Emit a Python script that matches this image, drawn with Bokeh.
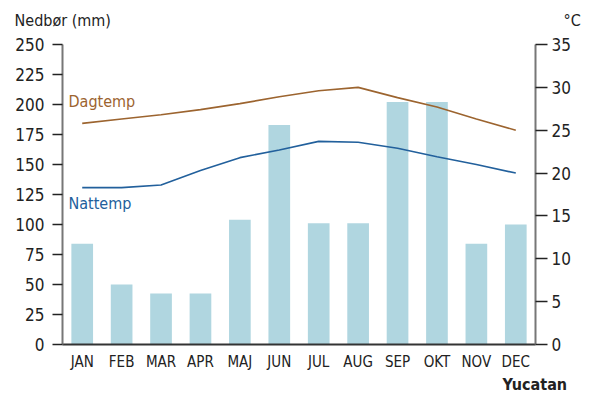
from bokeh.plotting import figure
from bokeh.models import (Range1d, FactorRange, LinearAxis, FixedTicker, Label, ColumnDataSource)
from bokeh.embed import file_html
from bokeh.resources import INLINE

months = ["JAN", "FEB", "MAR", "APR", "MAJ", "JUN", "JUL", "AUG", "SEP", "OKT", "NOV", "DEC"]
precip = [84, 50, 42.5, 42.5, 104, 183, 101, 101, 202, 202, 84, 100]
day_temp = [25.8, 26.3, 26.8, 27.4, 28.1, 28.9, 29.6, 30.0, 28.8, 27.7, 26.3, 25.0]
night_temp = [18.3, 18.3, 18.6, 20.3, 21.8, 22.7, 23.7, 23.6, 22.9, 21.9, 21.0, 20.0]
left_ticks = [0, 25, 50, 75, 100, 125, 150, 175, 200, 225, 250]
right_ticks = [0, 5, 10, 15, 20, 25, 30, 35]

FONT = "'DejaVu Sans Condensed', Roboto, sans-serif"

p = figure(width=590, height=395, x_range=FactorRange(factors=months, range_padding=0.0),
           y_range=Range1d(0, 250), output_backend="svg", toolbar_location=None,
           min_border_left=62, min_border_right=45, min_border_top=44, min_border_bottom=51)
p.extra_y_ranges = {"temp": Range1d(0, 35)}
p.outline_line_color = None
p.xgrid.visible = False
p.ygrid.visible = False

src = ColumnDataSource(dict(m=months, v=precip, d=day_temp, n=night_temp))
p.vbar(x="m", top="v", width=0.55, source=src, fill_color="#b0d6e0", line_color=None)
p.line(x="m", y="d", source=src, y_range_name="temp", line_color="#9c642f", line_width=1.6)
p.line(x="m", y="n", source=src, y_range_name="temp", line_color="#22609c", line_width=1.6)

ya = p.yaxis[0]
ya.ticker = FixedTicker(ticks=left_ticks)
ya.axis_line_color = "#777777"
ya.axis_line_width = 2
ya.major_tick_line_color = "#222222"
ya.major_tick_line_width = 1.5
ya.major_tick_out = 10
ya.major_tick_in = 0
ya.minor_tick_line_color = None
ya.major_label_text_font = FONT
ya.major_label_text_font_size = "17px"
ya.major_label_text_color = "#222222"
ya.major_label_standoff = 8

ra = LinearAxis(y_range_name="temp", ticker=FixedTicker(ticks=right_ticks))
ra.axis_line_color = "#777777"
ra.axis_line_width = 2
ra.major_tick_line_color = "#222222"
ra.major_tick_line_width = 1.5
ra.major_tick_out = 12
ra.major_tick_in = 0
ra.minor_tick_line_color = None
ra.major_label_text_font = FONT
ra.major_label_text_font_size = "17px"
ra.major_label_text_color = "#222222"
ra.major_label_standoff = 4
p.add_layout(ra, "right")

xa = p.xaxis[0]
xa.axis_line_color = "#333333"
xa.axis_line_width = 2
xa.major_tick_line_color = None
xa.minor_tick_line_color = None
xa.major_label_text_font = FONT
xa.major_label_text_font_size = "15px"
xa.major_label_text_color = "#222222"
xa.major_label_standoff = 2

def make_label(x, y, text, color="#222222", style="normal"):
    return Label(x=x, y=y, x_units="screen", y_units="screen", text=text,
                 text_color=color, text_font=FONT, text_font_size="16px",
                 text_font_style=style, text_baseline="middle")

p.add_layout(make_label(6, 243, "Dagtemp", "#9c642f"))
p.add_layout(make_label(6, 141, "Nattemp", "#22609c"))
p.add_layout(make_label(-48, 24, "Nedbør (mm)"), "above")
p.add_layout(make_label(-10, 324, "°C"), "right")
p.add_layout(make_label(440, 8, "Yucatan", style="bold"), "below")

open("out.html", "w").write(file_html(p, INLINE))
